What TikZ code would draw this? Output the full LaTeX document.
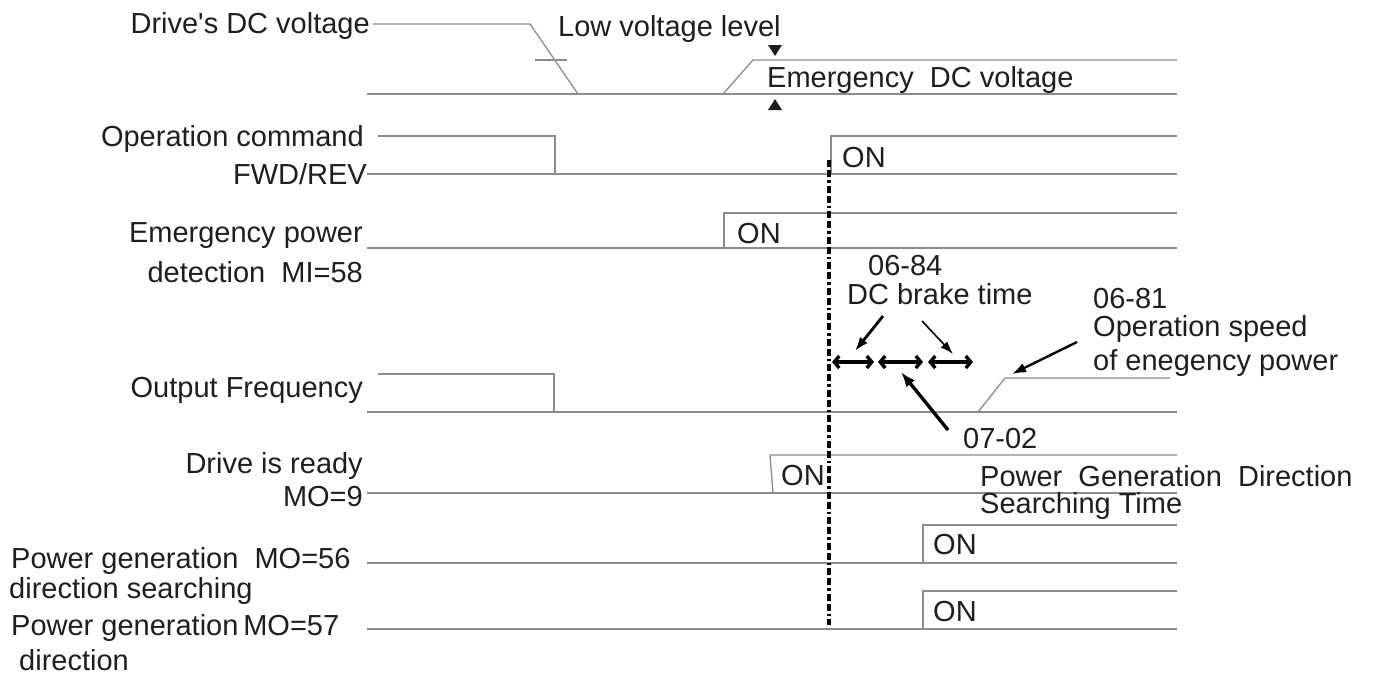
\documentclass[tikz,border=0pt]{standalone}
\usepackage{fontspec}
\setmainfont{Liberation Sans}
\usetikzlibrary{arrows.meta}

\begin{document}
\begin{tikzpicture}[x=1pt,y=-1pt,
  sig/.style={draw=lineGray, line width=1.3pt},
  lbl/.style={font=\fontsize{29}{30}\selectfont, text=txtDark, inner sep=0pt},
  ptr/.style={draw=black, -{Latex[length=14pt,width=10pt]}},
  spanarr/.style={draw=black, line width=3.4pt,
    {Straight Barb[length=5pt,width=12pt]}-{Straight Barb[length=5pt,width=12pt]}}]

% Colours
\definecolor{lineGray}{HTML}{8C8C8C}
\definecolor{txtDark}{HTML}{1E1E1E}

% Frame of the picture
\useasboundingbox (0,0) rectangle (1374,675);

% Signal names on the left
\node[lbl, anchor=base east] (dcv) at (370,33) {Drive\textquotesingle s DC voltage};
\node[lbl, anchor=base east] (opc) at (364,146) {Operation command};
\node[lbl, anchor=base east] (fwd) at (367,184) {FWD/REV};
\node[lbl, anchor=base east] (emp) at (363,242) {Emergency power};
\node[lbl, anchor=base east] (mi58) at (363,282) {detection\ \ MI=58};
\node[lbl, anchor=base east] (ofq) at (363,397) {Output Frequency};
\node[lbl, anchor=base east] (rdy) at (363,473) {Drive is ready};
\node[lbl, anchor=base east] (mo9) at (363,506) {MO=9};
\node[lbl, anchor=base west] (mo56) at (11,568) {Power generation\ \ MO=56};
\node[lbl, anchor=base west] (srch) at (9,598) {direction searching};
\node[lbl, anchor=base west] (mo57) at (11,635) {Power generation\,MO=57};
\node[lbl, anchor=base west] (dir) at (19,670) {direction};

% Drive's DC voltage
\draw[sig] (367,94) -- (1177,94);
\draw[sig] (dcv.east |- 0,24) ++(3,0) -- (530,24) -- (578,94);
\draw[sig] (723,94) -- (753,60) -- (1177,60);
\draw[sig] (535,60) -- (567,60);
\node[lbl, anchor=base west] (lowv) at (558,36) {Low voltage level};
\node[lbl, anchor=base west] (emdc) at (767,87) {Emergency\ \ DC voltage};
\fill[txtDark] (768,45) -- (782,45) -- (775,56) -- cycle;
\fill[txtDark] (768,110) -- (782,110) -- (775,99) -- cycle;

% Operation command FWD/REV
\draw[sig] (367,174) -- (1177,174);
\draw[sig] (378,136) -- (555,136) -- (555,174);
\draw[sig] (831,174) -- (831,136) -- (1177,136);
\node[lbl, anchor=base west] (on1) at (842,167) {ON};

% Emergency power detection MI=58
\draw[sig] (367,248) -- (1177,248);
\draw[sig] (724,248) -- (724,213) -- (1177,213);
\node[lbl, anchor=base west] (on2) at (737,243) {ON};

% Output frequency
\draw[sig] (367,412) -- (1177,412);
\draw[sig] (378,374) -- (554,374) -- (554,412);
\draw[sig] (978,412) -- (1005,378) -- (1170,378);

% Drive is ready MO=9
\draw[sig] (367,493) -- (1177,493);
\draw[sig] (773,493) -- (770,455) -- (1177,455);
\node[lbl, anchor=base west] (on3) at (781,485) {ON};

% MO=56
\draw[sig] (367,563) -- (1177,563);
\draw[sig] (923,563) -- (923,525) -- (1177,525);
\node[lbl, anchor=base west] (on4) at (933,554) {ON};

% MO=57
\draw[sig] (367,629) -- (1177,629);
\draw[sig] (923,629) -- (923,591) -- (1177,591);
\node[lbl, anchor=base west] (on5) at (933,621) {ON};

% Restart instant
\draw[black, line width=3.6pt, dash pattern=on 7pt off 3pt on 7pt off 3pt on 2.5pt off 3pt]
  (829,160) -- (829,625);

% Time spans
\coordinate (s0) at (832,362);
\coordinate (s1) at (874,362);
\coordinate (s2) at (878,362);
\coordinate (s3) at (923,362);
\coordinate (s4) at (928,362);
\coordinate (s5) at (973,362);
\draw[spanarr] (s0) -- (s1);
\draw[spanarr] (s2) -- (s3);
\draw[spanarr] (s4) -- (s5);

% 06-84
\node[lbl, anchor=base west] (p684) at (868,275) {06-84};
\node[lbl, anchor=base west] (brk) at (847,304) {DC brake time};
\coordinate (b1) at (883,316);
\coordinate (b2) at (922,321);
\draw[ptr, line width=2.8pt] (b1) -- (855,351);
\draw[ptr, line width=1.6pt, -{Latex[length=13pt,width=9pt]}] (b2) -- (953,354);

% 07-02
\node[lbl, anchor=base west] (p702) at (963,448) {07-02};
\coordinate (t1) at (948,430);
\draw[ptr, line width=3.4pt, -{Latex[length=15pt,width=11pt]}] (t1) -- (901,372);

% 06-81
\node[lbl, anchor=base west] (p681) at (1093,308) {06-81};
\node[lbl, anchor=base west] (ops) at (1093,336) {Operation speed};
\node[lbl, anchor=base west] (oep) at (1093,370) {of enegency power};
\coordinate (o1) at (1077,342);
\draw[ptr, line width=2.4pt] (o1) -- (1012,374);

% Power generation direction searching time
\node[lbl, anchor=base west] (pgd) at (980,486) {Power\ \ Generation\ \ Direction};
\node[lbl, anchor=base west] (sct) at (980,513) {Searching\ Time};

\end{tikzpicture}
\end{document}
